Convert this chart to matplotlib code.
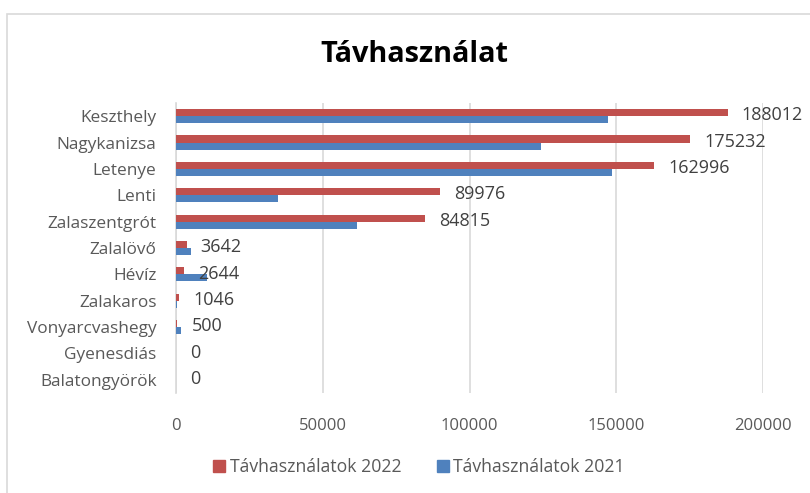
import matplotlib.pyplot as plt
import matplotlib.patches as mpatches
import numpy as np

# data
categories = ['Keszthely', 'Nagykanizsa', 'Letenye', 'Lenti', 'Zalaszentgrót',
              'Zalalövő', 'Hévíz', 'Zalakaros', 'Vonyarcvashegy', 'Gyenesdiás',
              'Balatongyörök']
use_2022 = [188012, 175232, 162996, 89976, 84815, 3642, 2644, 1046, 500, 0, 0]
use_2021 = [147300, 124300, 148600, 34600, 61500, 5000, 10400, 400, 1600, 0, 0]
x_ticks = [0, 50000, 100000, 150000, 200000]

RED = '#C0504D'
BLUE = '#4F81BD'
GRID = '#D9D9D9'
TXT = '#595959'

plt.rcParams['font.family'] = ['Open Sans', 'DejaVu Sans']

W, H = 810, 493
fig = plt.figure(figsize=(W / 100, H / 100), dpi=100)

# chart area border (cropped on the right and bottom)
fig.patches.append(mpatches.Rectangle((7 / W, -0.1), 1.2, 1 - 14 / H + 0.1,
                                      transform=fig.transFigure, fill=False,
                                      edgecolor='#D9D9D9', linewidth=1.2))

ax = fig.add_axes([176 / W, (H - 393) / H, (763 - 176) / W, (393 - 103) / H])

y = np.arange(len(categories))
h = 0.27
ax.barh(y - h / 2, use_2022, height=h, color=RED, label='Távhasználatok 2022', zorder=3)
ax.barh(y + h / 2, use_2021, height=h, color=BLUE, label='Távhasználatok 2021', zorder=3)

for yi, v in zip(y, use_2022):
    ax.annotate(str(v), (v, yi - h / 2), xytext=(10, -2), textcoords='offset points',
                va='center', ha='left', fontsize=13, color='#404040',
                annotation_clip=False, zorder=4)

ax.set_xlim(0, 200000)
ax.set_ylim(len(categories) - 0.5, -0.5)
ax.set_xticks(x_ticks)
ax.set_xticklabels([str(t) for t in x_ticks])
ax.set_yticks(y)
ax.set_yticklabels(categories)
ax.grid(axis='x', color=GRID, linewidth=1.2, zorder=0)
ax.tick_params(axis='both', length=0, colors=TXT)
ax.tick_params(axis='x', pad=18, labelsize=12)
ax.tick_params(axis='y', pad=14, labelsize=12.4)
for s in ['top', 'right', 'bottom']:
    ax.spines[s].set_visible(False)
ax.spines['left'].set_color(GRID)
ax.spines['left'].set_linewidth(1.2)

fig.text(414 / W, 1 - 55 / H, 'Távhasználat', ha='center', va='center',
         fontsize=20.8, fontweight='bold', color='black')

handles = [mpatches.Patch(color=RED), mpatches.Patch(color=BLUE)]
leg = fig.legend(handles, ['Távhasználatok 2022', 'Távhasználatok 2021'],
                 loc='center', bbox_to_anchor=(419 / W, 1 - 467 / H), ncol=2,
                 frameon=False, fontsize=12.7, handlelength=0.68, handleheight=0.68,
                 handletextpad=0.25, columnspacing=2.0)
for t in leg.get_texts():
    t.set_color(TXT)

fig.savefig('out.png', dpi=100)
